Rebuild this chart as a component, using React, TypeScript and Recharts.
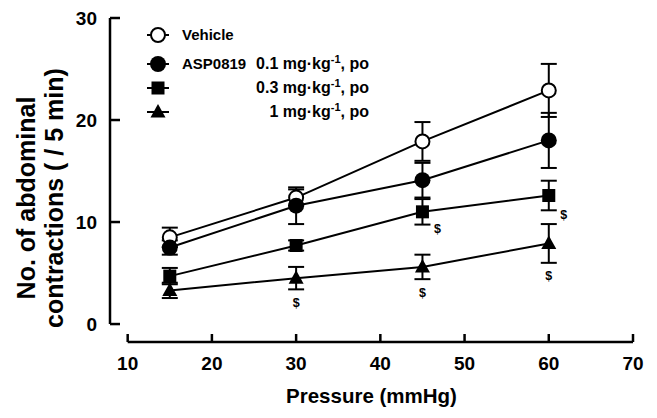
import React from 'react';
import {
  ComposedChart,
  Line,
  Scatter,
  ErrorBar,
  XAxis,
  YAxis,
  Label,
  Legend,
  ReferenceLine,
} from 'recharts';

// pressure steps (mmHg)
const pressure = [15, 30, 45, 60];

// mean and SEM per group
const vehicle = [8.5, 12.4, 17.9, 22.9];
const vehicleSem = [0.95, 0.8, 1.9, 2.6];
const asp01 = [7.5, 11.6, 14.1, 18.0];
const asp01Sem = [0.7, 1.8, 1.7, 2.7];
const asp03 = [4.7, 7.7, 11.0, 12.6];
const asp03Sem = [0.8, 0.5, 1.25, 1.45];
const asp1 = [3.3, 4.5, 5.6, 7.9];
const asp1Sem = [0.75, 1.1, 1.2, 1.9];

// "$" significance marks
const sig03 = [false, false, true, true];
const sig1 = [false, true, true, true];

const xTicks = [10, 20, 30, 40, 50, 60, 70];
const yTicks = [0, 10, 20, 30];

// axis ranges (the axes are drawn detached from each other)
const X_MIN = 7.9;
const X_MAX = 70;
const Y_MIN = -1.76;
const Y_MAX = 30;

const seriesKeys = ['vehicle', 'asp01', 'asp03', 'asp1'];
const seriesPrefix = ['Vehicle', 'ASP0819', '', ''];
const seriesDose = ['', '0.1', '0.3', '1'];

const FONT = '"Liberation Sans", Arial, Helvetica, sans-serif';

const chartData = pressure.map((p, i) => ({
  p,
  vehicle: vehicle[i],
  vehicleSem: vehicleSem[i],
  asp01: asp01[i],
  asp01Sem: asp01Sem[i],
  asp03: asp03[i],
  asp03Sem: asp03Sem[i],
  asp1: asp1[i],
  asp1Sem: asp1Sem[i],
}));

const sig03Data = pressure
  .map((p, i) => ({ p, y: asp03[i] - asp03Sem[i], on: sig03[i] }))
  .filter((d) => d.on);
const sig1Data = pressure
  .map((p, i) => ({ p, y: asp1[i] - asp1Sem[i], on: sig1[i] }))
  .filter((d) => d.on);

type Mark = 'open' | 'filled' | 'square' | 'triangle';
const seriesMark: Mark[] = ['open', 'filled', 'square', 'triangle'];

function Marker({ kind, cx, cy }: { kind: Mark; cx: number; cy: number }) {
  if (kind === 'open') {
    return <circle cx={cx} cy={cy} r={7} fill="#fff" stroke="#000" strokeWidth={2} />;
  }
  if (kind === 'filled') {
    return <circle cx={cx} cy={cy} r={8} fill="#000" />;
  }
  if (kind === 'square') {
    return <rect x={cx - 6.5} y={cy - 6.5} width={13} height={13} fill="#000" />;
  }
  return (
    <polygon
      points={`${cx},${cy - 8} ${cx + 7.5},${cy + 5.5} ${cx - 7.5},${cy + 5.5}`}
      fill="#000"
    />
  );
}

const dotFor = (kind: Mark) => (props: any) => {
  const { cx, cy, index } = props;
  if (cx == null || cy == null) return <g key={index} />;
  return (
    <g key={index}>
      <Marker kind={kind} cx={cx} cy={cy} />
    </g>
  );
};

const XTick = (props: any) => {
  const { x, y, payload } = props;
  return (
    <g>
      <line x1={x} y1={y} x2={x} y2={y - 8} stroke="#000" strokeWidth={2.5} />
      <text x={x} y={y + 28} textAnchor="middle" fontSize={19} fontWeight="bold" fontFamily={FONT} fill="#000">
        {payload.value}
      </text>
    </g>
  );
};

const YTick = (props: any) => {
  const { x, y, payload } = props;
  return (
    <g>
      <line x1={x} y1={y} x2={x + 10} y2={y} stroke="#000" strokeWidth={2.5} />
      <text x={x - 13} y={y + 7} textAnchor="end" fontSize={19} fontWeight="bold" fontFamily={FONT} fill="#000">
        {payload.value}
      </text>
    </g>
  );
};

const XTitle = (props: any) => {
  const { x, y, width } = props.viewBox;
  return (
    <text x={x + width / 2} y={y + 61} textAnchor="middle" fontSize={20.5} fontWeight="bold" fontFamily={FONT} fill="#000">
      Pressure (mmHg)
    </text>
  );
};

const YTitle = (props: any) => {
  const { y, height } = props.viewBox;
  const cy = y + height / 2 + 18;
  return (
    <g fontSize={25} fontWeight="bold" fontFamily={FONT} fill="#000">
      <text transform={`translate(35,${cy}) rotate(-90)`} textAnchor="middle">
        No. of abdominal
      </text>
      <text transform={`translate(63,${cy}) rotate(-90)`} textAnchor="middle">
        contractions ( / 5 min)
      </text>
    </g>
  );
};

const sigShape = (dx: number, dy: number) => (props: any) => (
  <text
    x={props.cx + dx}
    y={props.cy + dy}
    dy="0.35em"
    textAnchor="middle"
    fontSize={12.5}
    fontWeight="bold"
    fontFamily={FONT}
    fill="#000"
  >
    $
  </text>
);

const LegendContent = () => (
  <div style={{ fontFamily: FONT, fontWeight: 'bold', fontSize: 15, color: '#000', width: 230, position: 'relative' }}>
    {seriesKeys.map((k, i) => (
      <div key={k} style={{ position: 'relative', height: 24, marginBottom: i === 0 ? 5 : 0 }}>
        <svg width={26} height={24} style={{ position: 'absolute', left: 0, top: 0 }}>
          <line x1={2} y1={12} x2={24} y2={12} stroke="#000" strokeWidth={2} />
          <Marker kind={seriesMark[i]} cx={13} cy={12} />
        </svg>
        {seriesPrefix[i] && (
          <span style={{ position: 'absolute', left: 37, top: 0, lineHeight: '24px' }}>{seriesPrefix[i]}</span>
        )}
        {seriesDose[i] && (
          <span style={{ position: 'absolute', right: 6, top: 0, lineHeight: '24px', whiteSpace: 'nowrap', fontSize: 16 }}>
            {seriesDose[i]} mg·kg
            <span style={{ fontSize: 11, position: 'relative', top: -6 }}>-1</span>, po
          </span>
        )}
      </div>
    ))}
  </div>
);

export default function App() {
  return (
    <div style={{ position: 'absolute', left: 0, top: 0 }}>
      <ComposedChart width={657} height={418} data={chartData} margin={{ top: 18, right: 24, bottom: 0, left: 0 }}>
        <XAxis
          dataKey="p"
          type="number"
          domain={[X_MIN, X_MAX]}
          ticks={xTicks}
          interval={0}
          height={76}
          axisLine={false}
          tickLine={false}
          tickSize={0}
          tickMargin={0}
          tick={<XTick />}
        >
          <Label content={<XTitle />} />
        </XAxis>
        <YAxis
          type="number"
          domain={[Y_MIN, Y_MAX]}
          ticks={yTicks}
          interval={0}
          width={110}
          axisLine={false}
          tickLine={false}
          tickSize={0}
          tickMargin={0}
          tick={<YTick />}
        >
          <Label content={<YTitle />} />
        </YAxis>
        <ReferenceLine
          segment={[{ x: xTicks[0], y: Y_MIN }, { x: X_MAX, y: Y_MIN }]}
          stroke="#000"
          strokeWidth={2.5}
        />
        <ReferenceLine
          segment={[{ x: X_MIN, y: yTicks[0] }, { x: X_MIN, y: Y_MAX }]}
          stroke="#000"
          strokeWidth={2.5}
        />
        <Legend
          layout="vertical"
          align="center"
          verticalAlign="middle"
          wrapperStyle={{ left: 145, top: 23, width: 230 }}
          content={<LegendContent />}
        />
        {seriesKeys.map((k, i) => (
          <Line
            key={k}
            dataKey={k}
            name={k}
            type="linear"
            stroke="#000"
            strokeWidth={2}
            dot={dotFor(seriesMark[i])}
            activeDot={false}
            isAnimationActive={false}
          >
            <ErrorBar dataKey={`${k}Sem`} width={8} strokeWidth={2} stroke="#000" direction="y" />
          </Line>
        ))}
        <Scatter data={sig03Data} dataKey="y" fill="#000" legendType="none" shape={sigShape(15, 4)} isAnimationActive={false} />
        <Scatter data={sig1Data} dataKey="y" fill="#000" legendType="none" shape={sigShape(0, 13)} isAnimationActive={false} />
      </ComposedChart>
    </div>
  );
}
